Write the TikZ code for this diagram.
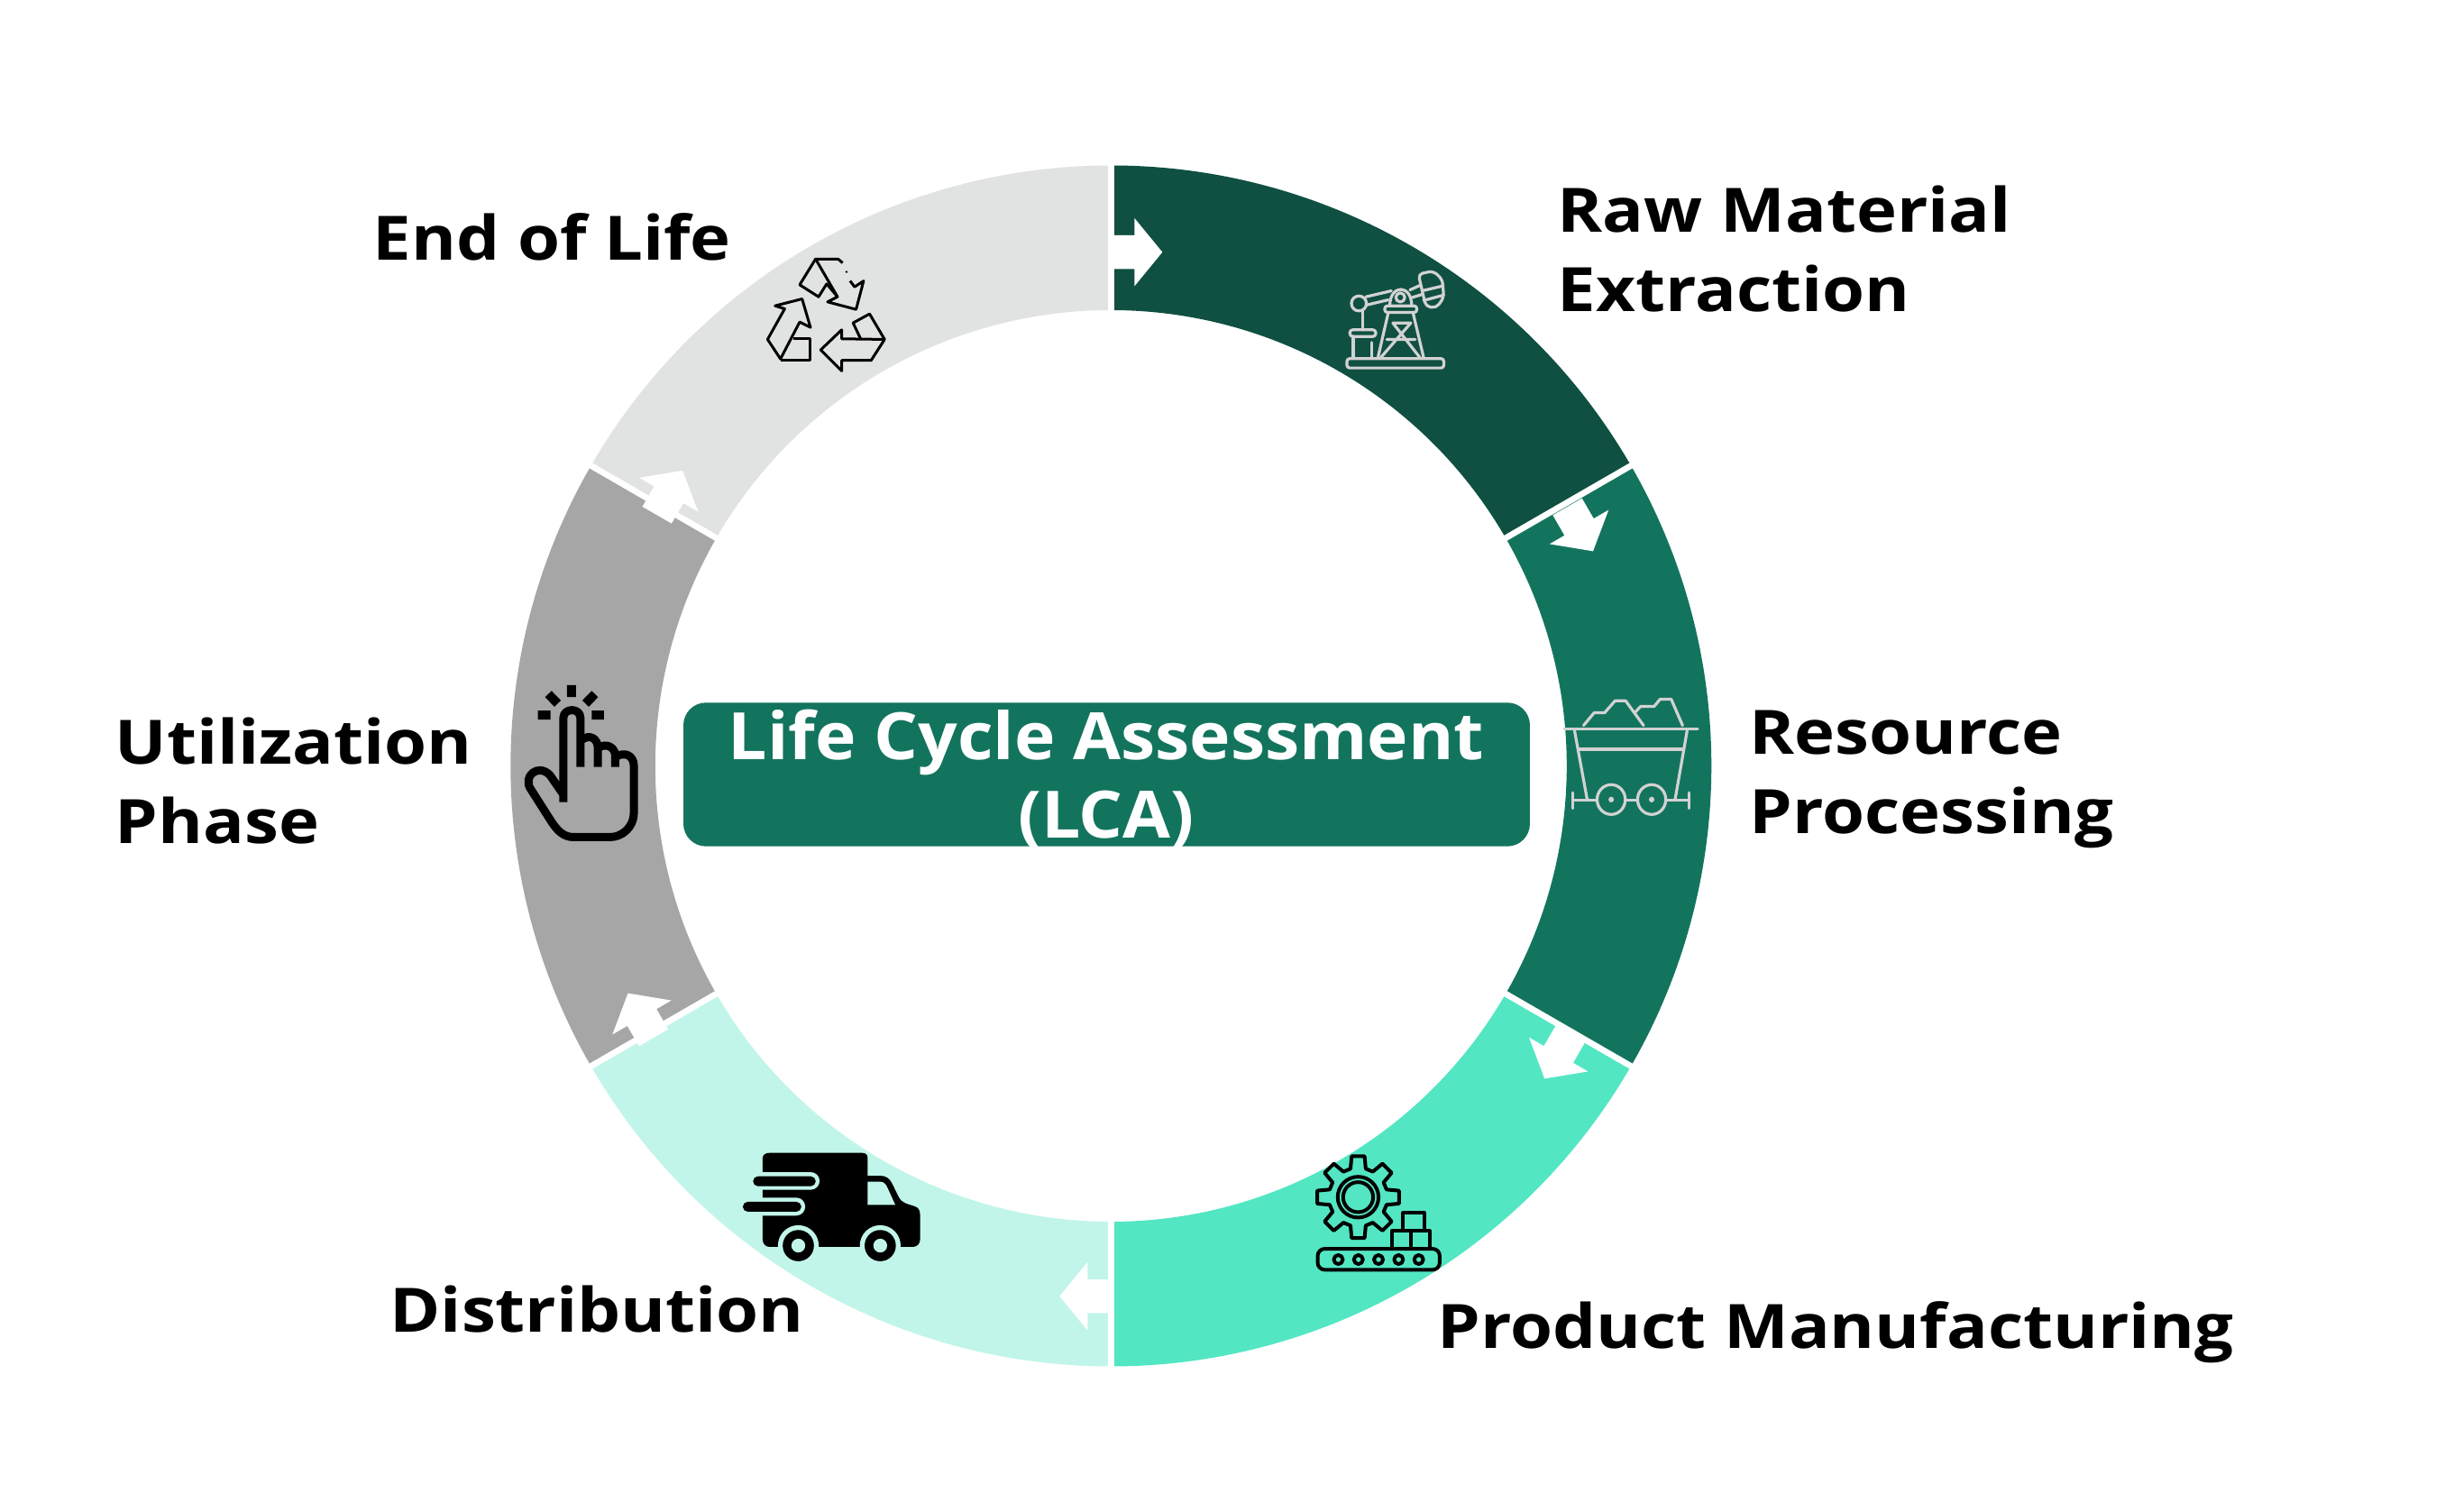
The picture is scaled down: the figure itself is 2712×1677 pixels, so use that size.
\documentclass[tikz,border=0pt]{standalone}
\usepackage{fontspec}
\setmainfont{Open Sans}
\definecolor{rawcol}{HTML}{0F5042}
\definecolor{rescol}{HTML}{13745E}
\definecolor{prodcol}{HTML}{53E6C3}
\definecolor{distcol}{HTML}{C2F5EA}
\definecolor{usecol}{HTML}{A6A6A6}
\definecolor{eolcol}{HTML}{E1E3E2}
\definecolor{iconcol}{HTML}{D2D2D2}
\tikzset{
  steplabel/.style={font=\fontsize{19.3}{25}\selectfont\bfseries\addfontfeature{FakeStretch=1.12}, text=black, align=left, inner sep=0pt},
  lightline/.style={draw=iconcol, line width=0.032cm, line join=round, line cap=round},
  darkline/.style={draw=black, line width=0.04cm, line join=round},
}
\begin{document}
\begin{tikzpicture}[x=0.01cm,y=-0.01cm]
  \useasboundingbox (0,0) rectangle (2712,1677);
  % ring
  \begin{scope}[shift={(1232.3,849.5)}]
    \foreach \from/\to/\col in {-90/-30/rawcol,-30/30/rescol,30/90/prodcol,90/150/distcol,150/210/usecol,210/270/eolcol}
      \fill[\col] (\from:666) arc (\from:\to:666) -- (\to:505.5) arc (\to:\from:505.5) -- cycle;
    \foreach \gap in {-90,-30,30,90,150,210}
      \draw[white, line width=0.067cm] (\gap:498) -- (\gap:672);
  \end{scope}
  % arrows at the joints
  \foreach \bx/\by/\rot in {1232.3/279.7/0,1738.5/562/-60,1741.7/1147/-120,1232.3/1437.7/180,725/1151/120,728.7/571.3/60}
    \fill[white,shift={(\bx,\by)},rotate=\rot] (0,-18.7) -- (26,-18.7) -- (26,-37.8) -- (57,0) -- (26,37.8) -- (26,18.7) -- (0,18.7) -- cycle;
  % centre box
  \node[fill=rescol, rounded corners=0.25cm, minimum width=9.384cm, minimum height=1.593cm, inner sep=0pt] (lcabox) at (1227.5,859) {};
  \node[font=\fontsize{20.6}{25}\selectfont\bfseries\addfontfeature{FakeStretch=1.06}, text=white, align=center, inner sep=0pt, anchor=center] (lcatext) at (1227,864) {Life Cycle Assessment\\(LCA)};
  % labels
  \node[steplabel, anchor=west] (raw) at (1727,276) {Raw Material\\Extraction};
  \node[steplabel, anchor=west] (resource) at (1940,864) {Resource\\Processing};
  \node[steplabel, anchor=west] (product) at (1594,1478) {Product Manufacturing};
  \node[steplabel, anchor=west] (distribution) at (432,1452) {Distribution};
  \node[steplabel, anchor=west] (utilization) at (127,866) {Utilization\\Phase};
  \node[steplabel, anchor=west] (eol) at (413,263) {End of Life};
  % pump jack
  \begin{scope}[shift={(1490,280)},x=0.00333cm,y=-0.00333cm]
    \draw[lightline, rounded corners=0.03cm] (12,354) rectangle (335,385);
    \draw[lightline] (115,352) -- (150,200) (268,352) -- (232,200);
    \draw[lightline] (125,350) -- (225,235) (255,350) -- (165,235) (165,235) -- (225,235) (145,290) -- (240,290);
    \draw[lightline, rounded corners=0.03cm] (138,178) rectangle (245,200);
    \draw[lightline] (155,178) .. controls (155,105) and (228,105) .. (228,178);
    \draw[lightline] (190,150) circle (15);
    \draw[lightline] (75,148) -- (160,128) (78,175) -- (150,158) (222,125) -- (255,110) (230,150) -- (262,140);
    \draw[lightline] (52,170) circle (25);
    \draw[lightline, rounded corners=0.05cm] (250,72) -- (300,62) -- (330,90) -- (335,150) -- (310,185) -- (275,180) -- cycle;
    \draw[lightline] (262,128) -- (330,112) (268,160) -- (335,142);
    \draw[lightline] (65,195) -- (65,258);
    \draw[lightline, rounded corners=0.03cm] (22,258) rectangle (108,280);
    \draw[lightline] (33,352) -- (33,280) (95,352) -- (95,300);
  \end{scope}
  % mine cart
  \begin{scope}[shift={(1650,700)},x=0.00333cm,y=-0.00351cm]
    \draw[lightline] (255,310) -- (700,310) (305,373) -- (650,373);
    \draw[lightline] (290,315) -- (332,532) (665,315) -- (625,532);
    \draw[lightline] (285,510) -- (285,560) (672,510) -- (672,560) (285,535) -- (365,535) (460,535) -- (500,535) (595,535) -- (672,535);
    \draw[lightline] (412,532) circle (47) (547,532) circle (47);
    \fill[iconcol] (412,532) circle (9) (547,532) circle (9);
    \draw[lightline] (320,298) -- (355,258) -- (390,258) -- (425,220) -- (460,220) -- (520,298);
    \draw[lightline] (490,258) -- (510,238) -- (555,238) -- (575,215) -- (612,215) -- (650,298);
  \end{scope}
  % gear and conveyor
  \begin{scope}[shift={(1350,1202)},x=0.00333cm,y=-0.00333cm]
    \draw[darkline] (-15:98) ++(470,378) \foreach \a in {0,45,...,315} {-- ([shift={(470,378)}]\a-15:98) -- ([shift={(470,378)}]\a-9:138) -- ([shift={(470,378)}]\a+9:138) -- ([shift={(470,378)}]\a+15:98)} -- cycle;
    \draw[darkline] (470,378) circle (68) (470,378) circle (50);
    \draw[darkline, rounded corners=0.08cm] (335,550) rectangle (742,620);
    \foreach \rx in {404,471,538,605,672}
      \draw[darkline] (\rx,586) circle (15);
    \draw[darkline] (582,550) rectangle (645,490) (645,550) rectangle (708,490) (620,490) rectangle (690,430);
  \end{scope}
  % truck
  \begin{scope}[shift={(780,1201.5)},x=0.00333cm,y=-0.00333cm]
    \fill[black] (198,295) -- (198,250) .. controls (198,238) and (208,232) .. (220,232) -- (530,232) .. controls (542,232) and (548,238) .. (548,250) -- (548,308) -- (590,308) .. controls (610,308) and (622,318) .. (630,335) -- (652,380) .. controls (660,398) and (680,402) .. (705,410) .. controls (718,414) and (723,425) .. (723,440) -- (723,520) .. controls (723,535) and (712,545) .. (700,545) -- (220,545) .. controls (208,545) and (198,535) .. (198,520) -- cycle;
    \fill[distcol] (548,328) -- (590,328) .. controls (603,328) and (610,338) .. (615,350) -- (640,405) -- (548,405) -- cycle;
    \fill[distcol, rounded corners=0.1cm] (150,296) rectangle (388,355);
    \fill[distcol, rounded corners=0.1cm] (120,381) rectangle (340,441);
    \fill[black, rounded corners=0.055cm] (166,310) rectangle (375,343);
    \fill[black, rounded corners=0.055cm] (132,395) rectangle (327,428);
    \fill[distcol] (317,541) circle (68) (590,541) circle (68);
    \fill[black] (317,541) circle (52) (590,541) circle (52);
    \fill[distcol] (317,541) circle (23) (590,541) circle (23);
  \end{scope}
  % pointing hand
  \begin{scope}[shift={(540,721.5)},x=0.00333cm,y=-0.00333cm]
    \draw[black, line width=0.09cm, line join=round] (255,505) -- (255,225) .. controls (255,190) and (312,190) .. (312,225) -- (312,388)
      (312,300) .. controls (345,275) and (370,295) .. (370,325) -- (370,388)
      (370,325) .. controls (400,305) and (428,325) .. (428,350) -- (428,388)
      (428,355) .. controls (460,335) and (490,350) .. (490,385) -- (490,540) .. controls (490,590) and (450,622) .. (410,622) -- (290,622) .. controls (255,622) and (235,600) .. (215,570) -- (145,460) .. controls (120,420) and (170,375) .. (210,415) -- (255,480);
    \draw[black, line width=0.1cm] (282,115) -- (282,155) (205,145) -- (236,177) (360,145) -- (329,177) (170,215) -- (212,215) (350,215) -- (390,215);
  \end{scope}
  % recycling sign
  \begin{scope}[shift={(680,250)},x=0.00333cm,y=-0.00333cm,line width=0.03cm,line join=round]
    \draw (765,125) -- (750,112) -- (675,112) -- (622,198) -- (685,238) -- (712,195) -- (748,238) -- (715,255) -- (810,280) -- (835,185) -- (805,205) -- (790,185);
    \draw (675,112) -- (748,238);
    \fill (778,155) circle (4);
    \draw (540,268) -- (630,245) -- (658,340) -- (622,322) -- (558,445) -- (515,380) -- (572,278) -- cycle;
    \draw (600,378) -- (658,378) -- (658,448) -- (558,448);
    \draw (692,415) -- (762,348) -- (762,378) -- (905,380) -- (860,450) -- (762,450) -- (762,485) -- cycle;
    \draw (825,378) -- (800,325) -- (855,295) -- (905,380);
  \end{scope}
\end{tikzpicture}
\end{document}
